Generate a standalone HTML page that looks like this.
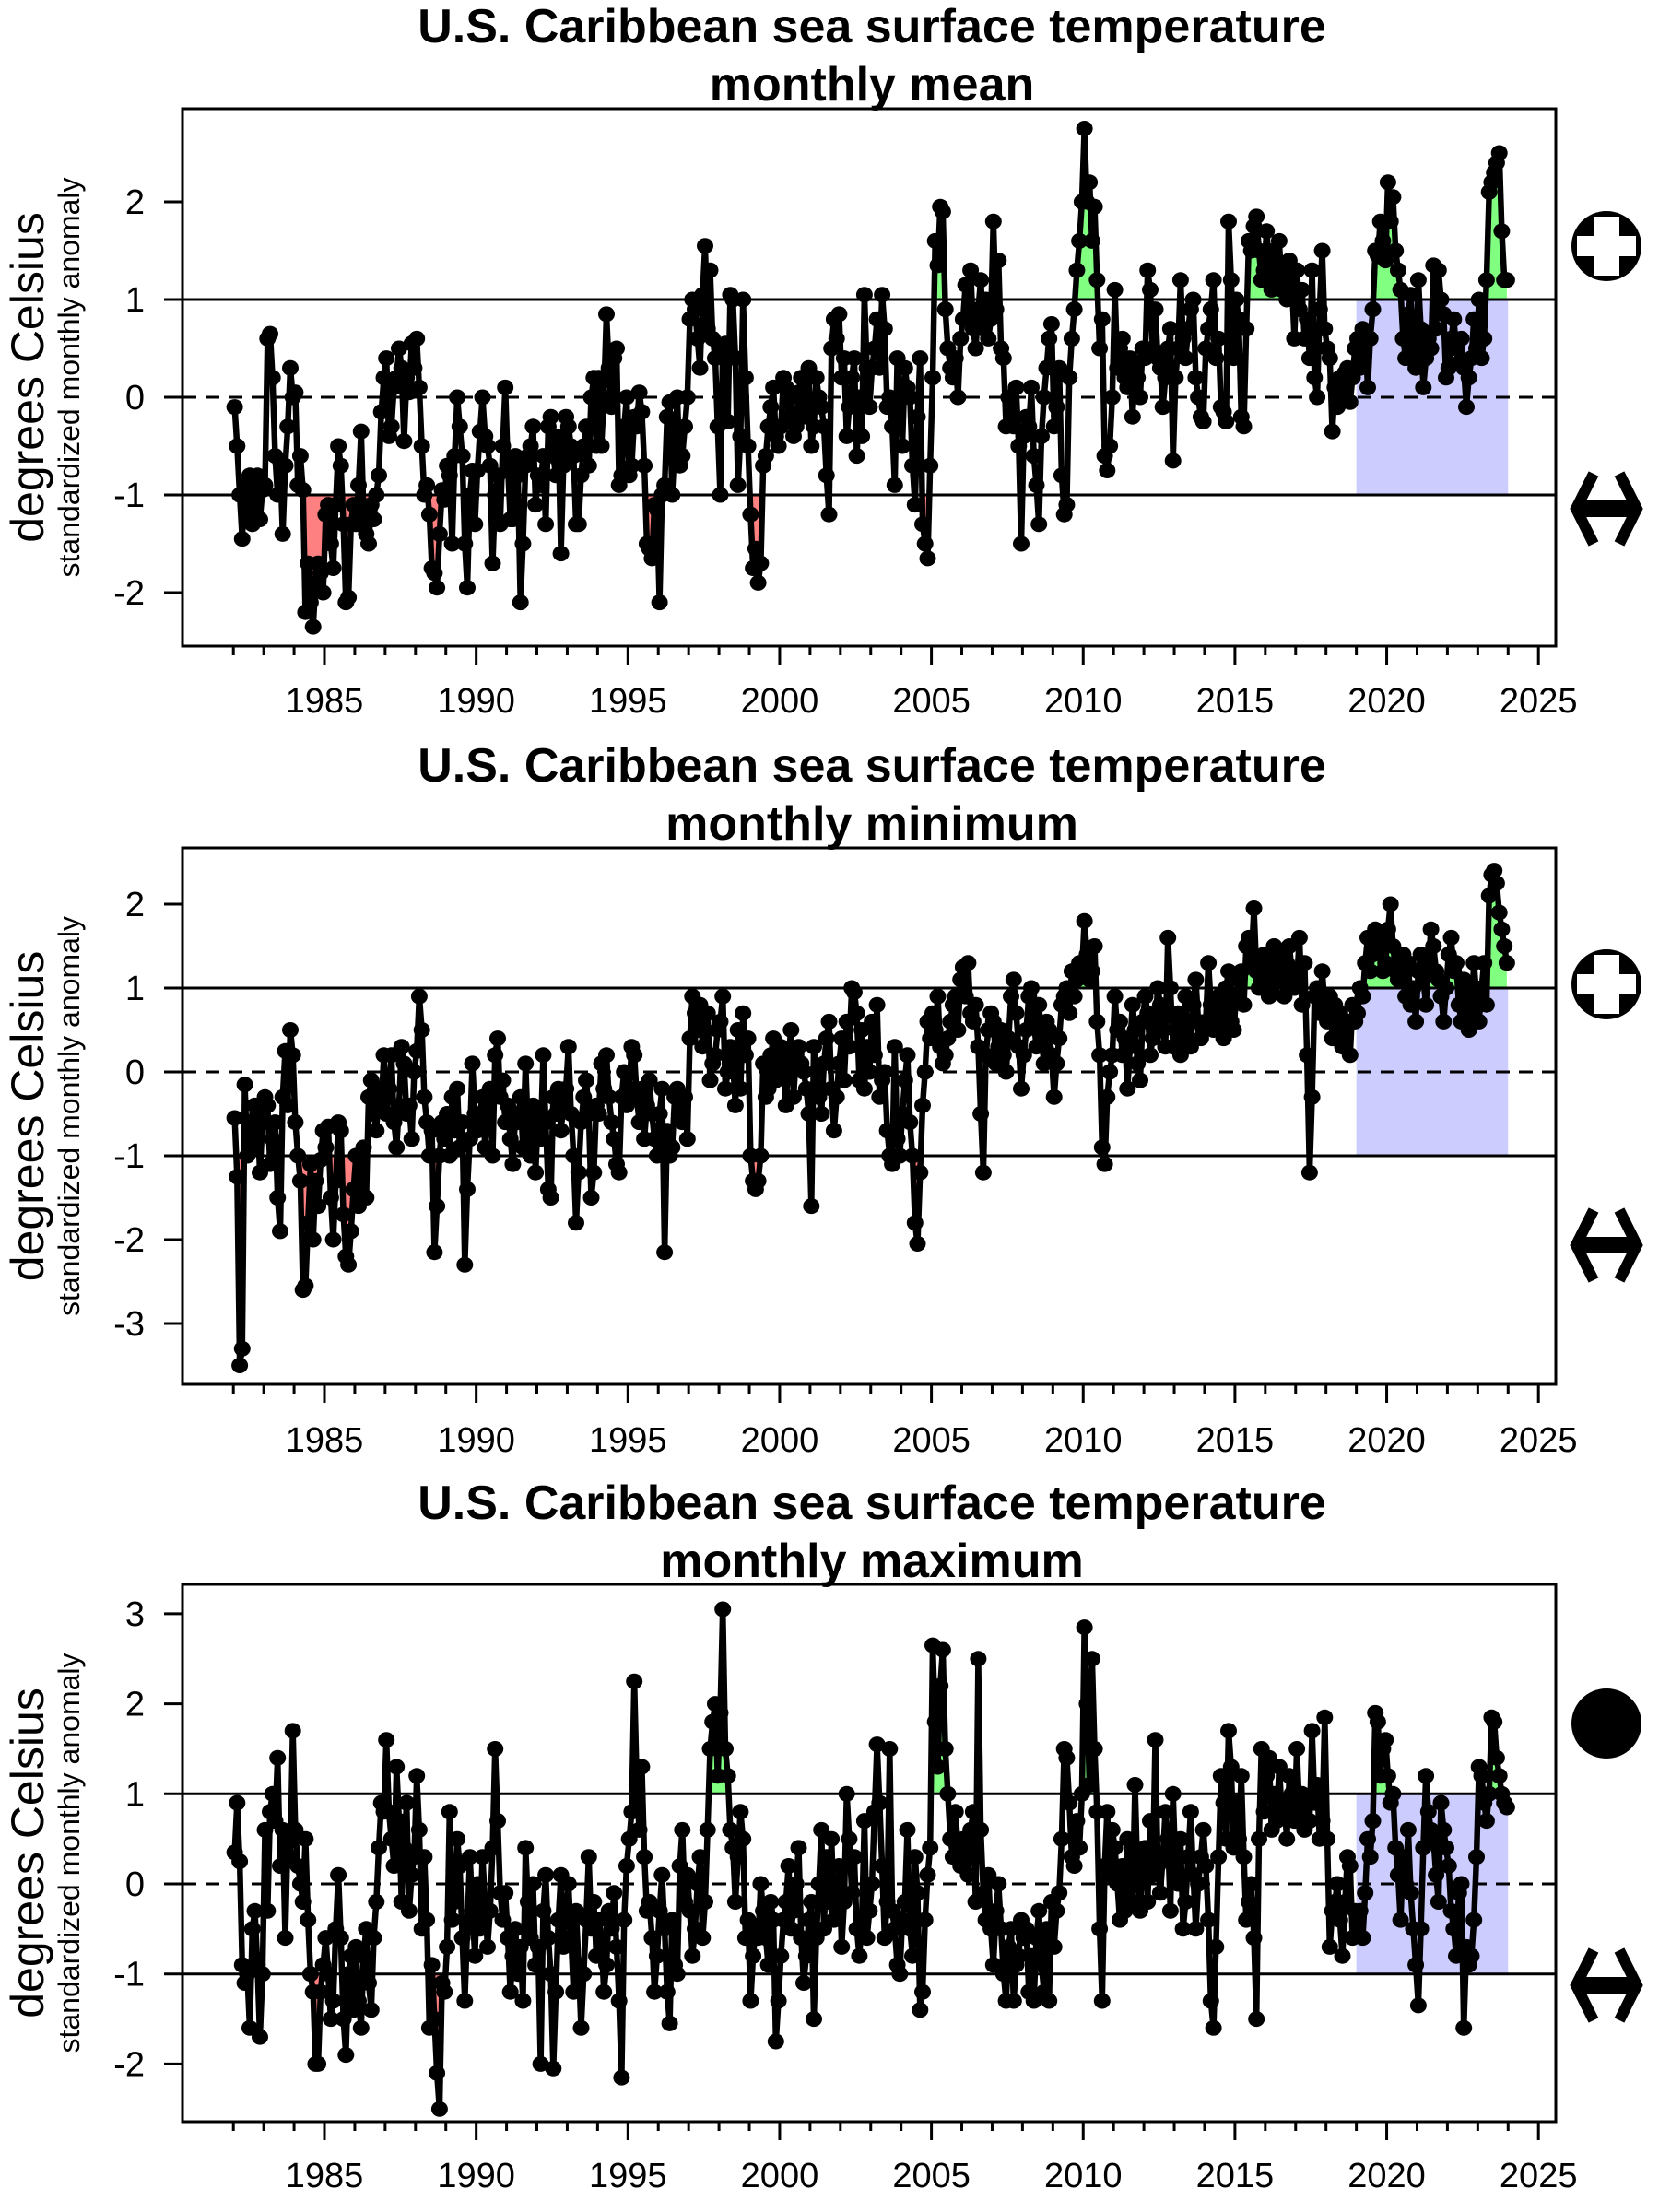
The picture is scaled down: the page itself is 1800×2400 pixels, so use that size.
<!DOCTYPE html>
<html><head><meta charset="utf-8"><style>
html,body{margin:0;padding:0;background:#fff;}
svg{display:block;font-family:"Liberation Sans",Arial,sans-serif;}
</style></head><body>
<svg id="chart" width="1800" height="2400" viewBox="0 0 1800 2400" xmlns="http://www.w3.org/2000/svg"></svg>
<script>
const startYear = 1982;
const xTickYears = [1985,1990,1995,2000,2005,2010,2015,2020,2025];
const meanValues = [
-0.1,-0.5,-1.0,-1.45,-0.9,-1.2,-0.8,-1.3,-1.0,-0.8,-1.25,-0.95,
-0.9,0.6,0.65,0.2,-0.6,-1.0,-0.65,-1.4,-0.7,-0.3,0.3,0.0,
0.05,-0.9,-0.6,-0.95,-2.2,-1.7,-2.1,-2.35,-1.9,-1.7,-1.8,-2.0,
-1.2,-1.1,-1.5,-1.75,-1.1,-0.5,-0.7,-1.3,-2.1,-2.05,-1.3,-1.1,
-1.3,-0.9,-0.35,-1.2,-1.4,-1.5,-1.1,-1.25,-1.0,-0.8,-0.15,0.2,
0.4,-0.4,-0.3,0.1,0.2,0.5,0.3,-0.45,0.2,0.05,0.55,0.3,
0.6,0.1,-0.5,-1.0,-0.9,-1.2,-1.75,-1.8,-1.95,-1.4,-0.95,-1.05,
-0.7,-0.8,-1.5,-0.6,0.0,-0.3,-0.6,-1.5,-1.95,-1.0,-0.75,-1.3,
-0.75,-0.35,0.0,-0.4,-0.5,-0.7,-1.7,-1.0,-0.8,-1.3,-0.5,0.1,
-0.7,-1.25,-1.25,-0.6,-0.8,-2.1,-1.5,-0.7,-0.6,-0.5,-0.3,-1.1,
-0.8,-0.9,-0.6,-1.3,-0.3,-0.2,-0.6,-0.8,-0.4,-1.6,-0.7,-0.2,
-0.3,-0.5,-0.6,-1.3,-1.3,-0.8,-0.5,-0.3,-0.7,0.0,0.2,-0.5,
0.2,-0.5,0.0,0.85,0.3,-0.1,0.4,0.5,-0.9,-0.8,-0.3,0.0,
-0.8,-0.7,-0.2,-0.3,0.05,-0.15,-0.7,-1.5,-1.55,-1.65,-1.1,-1.15,
-2.1,-1.0,-0.9,-0.2,-0.05,-1.0,-0.5,0.0,-0.7,-0.6,-0.3,0.0,
0.8,1.0,0.9,0.6,0.3,1.05,1.55,0.7,1.3,0.6,0.4,-0.3,
-1.0,0.5,0.55,-0.25,1.05,1.0,0.4,-0.9,-0.4,1.0,0.2,-0.5,
-1.2,-1.75,-1.55,-1.9,-1.7,-0.7,-0.6,-0.3,-0.1,0.1,-0.4,-0.5,
-0.3,0.2,0.1,-0.2,0.0,-0.4,-0.3,0.05,0.2,-0.2,-0.1,0.3,
-0.5,-0.3,0.2,0.0,-0.1,-0.3,-0.8,-1.2,0.5,0.8,0.6,0.85,
0.2,0.4,-0.4,-0.1,0.2,0.4,-0.6,0.0,-0.4,1.05,0.3,-0.1,
0.3,0.5,0.8,0.3,1.05,0.7,-0.1,0.0,-0.3,-0.9,0.4,0.0,
-0.5,0.3,0.1,0.0,-0.7,-1.1,-0.2,0.4,-1.3,-1.5,-1.65,-0.7,
0.2,1.6,1.35,1.95,1.9,0.9,0.5,0.3,0.2,0.4,0.0,0.6,
0.8,1.15,0.8,1.3,0.7,0.5,0.9,1.2,0.7,1.0,0.6,0.8,
1.8,0.9,1.4,0.5,0.4,-0.3,0.0,-0.1,-0.3,0.1,-0.5,-1.5,
-0.4,-0.2,-0.3,0.1,-0.6,-0.9,-1.3,-0.4,0.0,0.3,0.6,0.75,
-0.3,-0.1,0.3,-0.8,-1.2,-1.1,0.2,0.6,0.9,1.3,1.6,2.0,
2.75,2.0,2.2,1.6,1.95,1.2,0.5,0.8,-0.6,-0.75,-0.5,0.0,
1.1,0.3,0.5,0.6,0.2,0.1,0.4,-0.2,0.3,0.2,0.0,0.5,
0.4,1.3,1.1,0.5,0.9,0.4,0.3,-0.1,0.2,0.5,0.7,-0.65,
0.2,0.5,1.2,0.6,0.4,0.7,0.9,1.0,0.2,0.0,-0.2,-0.25,
0.5,0.7,0.9,1.2,0.4,0.6,-0.1,-0.15,-0.25,1.8,1.2,0.4,
1.0,0.8,-0.2,-0.3,0.7,1.6,1.5,1.75,1.85,1.5,1.2,1.3,
1.7,1.4,1.1,1.5,1.2,1.6,1.1,1.3,1.0,1.4,1.2,0.6,
1.3,0.9,1.1,0.6,0.8,0.4,1.3,0.2,0.0,0.9,1.5,0.7,
0.5,0.4,-0.35,0.1,-0.1,0.2,0.0,0.25,0.3,-0.05,0.2,0.5,
0.6,0.3,0.7,0.65,0.1,0.6,0.9,1.5,1.45,1.8,1.6,1.4,
2.2,1.8,2.05,1.5,1.3,1.1,0.6,0.4,0.85,1.05,0.5,0.3,
1.2,0.7,0.1,0.4,0.6,0.5,1.35,0.7,1.3,1.0,0.85,0.2,
0.3,0.6,0.8,0.5,0.35,0.6,0.3,-0.1,0.2,0.4,0.8,0.5,
1.0,0.4,0.6,1.2,2.1,2.2,2.3,2.4,2.5,1.7,1.2,1.2];
const minValues = [
-0.55,-1.25,-3.5,-3.3,-0.15,-1.0,-0.6,-0.9,-0.4,-0.5,-1.2,-0.6,
-0.3,-0.4,-1.1,-0.8,-0.6,-1.5,-1.9,-0.3,0.25,-0.4,0.5,0.2,
-0.6,-1.0,-1.3,-2.6,-2.55,-1.8,-1.1,-2.0,-1.3,-1.6,-1.05,-0.7,
-0.9,-0.65,-1.5,-2.0,-1.3,-0.6,-0.7,-1.7,-2.2,-2.3,-1.9,-1.4,
-1.0,-1.6,-1.2,-0.9,-1.5,-0.3,-0.1,-0.5,-0.7,-0.2,-0.4,0.2,
-0.5,-0.2,0.2,-0.6,-0.9,-0.4,0.3,0.1,-0.5,-0.4,-0.8,0.0,
0.25,0.9,0.5,-0.3,-0.6,-1.0,-0.7,-2.15,-1.6,-1.0,-0.6,-0.8,
-0.5,-1.0,-0.3,-0.7,-0.2,-0.9,-0.6,-2.3,-1.4,-0.8,0.1,-0.5,
-0.7,-0.5,-0.3,-0.9,-0.5,-0.2,-1.0,0.2,0.4,-0.3,-0.1,-0.6,
-0.4,-0.8,-1.1,-0.5,-0.6,-0.3,-0.9,0.1,-0.7,-1.0,-0.4,-1.2,
-0.5,-0.8,0.2,-0.6,-1.4,-1.5,-0.3,-0.5,-0.2,-0.7,-0.4,-0.2,
0.3,-0.5,-1.0,-1.8,-1.2,-0.6,-0.3,-0.1,-0.5,-1.5,-1.2,-0.4,
-0.5,0.1,-0.2,0.2,-0.3,-0.6,-0.8,-1.1,-1.2,-0.3,0.0,-0.4,
-0.2,0.3,0.2,-0.3,-0.6,-0.2,-0.8,-0.4,-0.1,-0.5,-0.8,-1.0,
-0.5,-0.2,-2.15,-0.7,-1.0,-0.9,-0.3,-0.2,-0.5,-0.6,-0.3,-0.8,
0.4,0.9,0.7,0.5,0.8,0.3,0.5,0.7,-0.1,0.1,0.2,0.5,
0.6,0.9,-0.2,0.0,0.3,0.1,-0.4,0.5,-0.2,0.7,0.2,0.4,
-1.0,-1.3,-1.4,-1.3,-1.0,0.1,-0.3,-0.2,0.2,0.4,-0.1,0.0,
0.3,0.0,-0.4,0.2,0.5,-0.3,0.2,0.3,0.1,0.0,-0.2,-0.5,
-1.6,0.3,0.0,-0.3,-0.5,0.1,0.4,0.6,-0.2,-0.7,-0.3,0.1,
0.4,-0.1,0.6,0.3,1.0,0.95,0.7,-0.1,0.5,-0.2,0.3,0.0,
0.6,0.2,0.8,-0.3,-0.1,0.0,-0.7,-1.0,-1.1,0.3,-0.8,-1.0,
-0.5,-0.1,0.2,-0.6,-1.0,-1.8,-2.05,-1.2,-0.4,0.0,0.6,0.4,
0.7,0.5,0.9,0.3,0.1,0.2,0.4,0.6,0.8,0.9,0.5,1.1,
1.25,0.9,1.3,0.7,0.6,0.8,0.3,-0.5,-1.2,0.2,0.5,0.7,
0.6,0.1,0.3,0.5,0.2,0.0,0.4,0.9,1.1,0.7,0.3,-0.2,
0.2,0.5,0.9,1.0,0.6,0.3,0.8,0.4,0.1,0.6,0.5,0.2,
-0.3,0.1,0.4,0.8,0.9,1.0,0.7,1.2,0.9,1.1,1.3,1.2,
1.8,1.4,1.1,1.2,1.5,0.6,0.2,-0.9,-1.1,-0.3,0.0,0.2,
0.9,0.5,0.6,0.2,0.4,-0.2,0.3,0.8,0.5,0.1,-0.1,0.6,
0.9,0.7,0.2,0.4,0.6,1.0,0.8,0.5,0.3,1.6,1.0,0.3,
0.5,0.7,0.2,0.6,0.9,0.4,0.3,0.8,1.1,0.6,0.4,0.5,
0.6,1.3,0.8,0.5,0.6,0.9,0.7,0.4,1.0,1.2,0.6,0.5,
0.9,1.1,1.2,0.8,1.5,1.6,1.3,1.95,1.2,1.0,1.1,1.4,
1.3,0.9,1.0,1.5,1.2,1.4,1.1,0.9,1.3,1.5,1.2,1.0,
1.1,1.6,0.8,1.3,0.2,-1.2,-0.3,0.9,1.0,0.7,1.2,0.8,
0.6,0.9,0.4,0.8,0.5,0.7,0.3,0.5,0.6,0.2,0.8,0.6,
0.7,1.0,0.9,1.3,1.6,1.2,1.4,1.7,1.5,1.6,1.2,1.3,
1.7,2.0,1.5,1.2,1.1,1.3,1.4,0.9,1.3,0.8,1.0,0.6,
1.2,1.4,1.1,0.8,1.3,1.7,1.5,1.2,1.1,0.9,0.6,1.0,
1.4,1.6,1.2,1.3,0.8,0.6,1.1,1.0,0.5,0.7,1.3,0.9,
0.6,1.0,1.3,0.8,2.1,2.35,2.4,2.25,1.9,1.7,1.5,1.3];
const maxValues = [
0.35,0.9,0.25,-0.9,-1.1,-1.0,-1.6,-0.5,-0.3,-0.9,-1.7,-1.0,
0.6,-0.3,0.8,1.0,0.7,1.4,0.2,0.6,-0.6,0.5,0.3,1.7,
0.6,0.2,0.0,-0.2,0.5,-0.4,-1.0,-1.2,-2.0,-2.0,-1.2,-0.9,
-0.6,-1.0,-1.5,-1.3,-0.5,0.1,-0.6,-1.5,-1.9,-1.0,-0.8,-1.4,
-0.7,-1.3,-1.6,-0.8,-0.5,-1.1,-1.4,-0.6,-0.2,0.4,0.9,0.8,
1.6,0.8,0.5,0.2,1.3,0.7,-0.2,0.4,0.9,-0.3,0.1,0.3,
1.2,0.6,-0.5,0.3,-0.4,-1.6,-0.9,-1.5,-2.1,-2.5,-1.1,-1.2,
-0.7,0.8,-0.4,-0.2,0.5,0.2,-0.6,-1.3,-0.5,0.3,-0.3,-0.8,
0.0,-0.5,0.3,-0.2,-0.7,-0.3,0.4,1.5,0.7,-0.1,-0.4,-0.1,
-0.6,-1.2,-0.8,-0.5,-1.0,-0.7,-1.3,0.4,-0.2,-0.6,0.0,-0.9,
-0.7,-2.0,-0.3,0.1,-0.6,-1.0,-2.05,-1.2,-0.4,0.1,-0.7,-0.3,
0.0,-0.6,-1.2,-0.3,-0.9,-1.6,-1.0,-0.4,0.3,-0.5,-0.2,-0.8,
-0.4,-0.6,-1.2,-0.9,-0.3,-0.5,-0.1,-0.7,-1.3,-2.15,-0.4,0.2,
0.5,0.8,2.25,1.1,0.6,1.3,0.3,-0.3,-0.2,-0.6,-1.2,-0.8,
-0.3,0.1,-0.5,-1.2,-1.55,-0.4,-0.9,-1.0,0.2,0.6,-0.2,0.1,
-0.3,-0.8,-0.5,0.0,0.3,-0.6,-0.2,0.6,1.5,1.8,2.0,1.2,
1.9,3.05,1.5,1.2,0.6,0.4,-0.2,0.3,0.8,0.5,-0.6,-0.4,
-1.3,-0.8,-0.5,-0.6,0.0,-0.3,-0.6,-0.9,-0.2,-0.4,-1.75,-1.3,
-0.8,-0.4,-0.2,0.2,-0.5,-0.3,0.0,0.4,-0.6,-1.1,-0.8,-0.4,
-0.2,-1.5,-0.6,0.0,0.6,-0.5,0.3,-0.2,0.5,-0.4,-0.3,0.2,
-0.7,-0.2,1.0,0.5,-0.1,0.3,-0.5,-0.8,-0.4,0.7,-0.6,-0.3,
0.0,0.8,1.55,0.9,0.2,-0.6,-0.2,1.5,-0.3,-0.5,-0.9,-1.0,
-0.4,-0.2,0.6,-0.5,-0.8,0.3,-0.1,-1.4,-1.2,-0.4,0.1,0.4,
2.65,1.8,1.3,2.2,2.6,1.5,1.0,0.5,0.3,0.8,0.4,0.2,
0.5,0.4,0.1,0.6,0.8,-0.2,2.5,0.6,-0.1,-0.4,0.1,-0.5,
-0.9,-0.3,0.0,-0.5,-1.0,-1.3,-0.7,-0.5,-1.3,-0.9,-0.8,-0.4,
-0.6,-0.5,-1.2,-0.8,-1.3,-0.6,-0.3,-0.9,-1.2,-0.5,-1.3,-0.2,
-0.7,-0.3,-0.1,0.5,1.5,1.4,0.9,0.3,0.2,0.7,0.4,1.0,
2.85,2.0,1.1,2.5,1.5,0.8,-0.5,-1.3,0.2,0.8,0.1,0.6,
0.4,0.0,-0.4,0.2,-0.3,0.5,0.0,-0.2,1.1,0.1,-0.3,0.3,
0.4,-0.2,0.7,0.1,1.6,0.2,-0.1,0.3,0.8,0.5,-0.3,1.0,
0.2,0.0,0.5,-0.5,-0.2,0.3,0.8,0.1,-0.5,0.0,0.3,0.6,
0.2,-0.4,-1.3,-1.6,-0.7,0.3,1.2,0.9,0.5,1.7,1.3,0.4,
0.9,0.5,1.2,0.3,-0.4,-0.2,0.0,-0.6,-1.5,0.5,1.5,0.8,
1.2,1.4,0.6,1.0,0.7,1.3,0.8,0.9,0.5,1.2,1.0,0.7,
1.5,0.8,1.0,0.6,0.9,0.7,1.7,0.9,1.1,0.5,0.7,1.85,
0.5,-0.7,-0.3,-0.2,0.0,-0.4,-0.8,-0.2,0.3,0.2,-0.6,-0.3,
-0.5,-0.3,-0.6,-0.1,0.5,0.3,0.7,1.9,1.8,1.2,1.5,1.6,
1.2,0.9,1.0,0.4,0.1,-0.4,0.3,0.0,0.6,-0.1,-0.5,-0.9,
-1.35,-0.5,0.4,1.2,0.8,0.6,0.5,0.1,-0.2,0.9,0.6,0.4,
0.2,-0.3,-0.5,-0.8,-0.1,0.0,-1.6,-0.7,-0.9,-0.8,-0.4,0.3,
1.3,1.2,0.9,0.7,1.0,1.85,1.8,1.4,1.2,1.0,0.9,0.85];
const meanTicks = [-2,-1,0,1,2];
const minTicks = [-3,-2,-1,0,1,2];
const maxTicks = [-2,-1,0,1,2,3];
const titles = ["monthly mean","monthly minimum","monthly maximum"];
const recentStart = 2019, recentEnd = 2024;

const NS = "http://www.w3.org/2000/svg";
const svg = document.getElementById("chart");
function mk(tag, attrs, parent){const e=document.createElementNS(NS,tag);for(const k in attrs)e.setAttribute(k,attrs[k]);(parent||svg).appendChild(e);return e;}

const L=198, R=1688;
const xs = yr => 352 + (yr-1985)*32.93;
const panels = [
 {vals:meanValues, ticks:meanTicks, top:118, bot:701, zero:431, unit:106, icon:"plus", iy1:267, iy2:552, t:46, tl:773, name:"mean"},
 {vals:minValues, ticks:minTicks, top:920, bot:1502, zero:1163, unit:91, icon:"plus", iy1:1068, iy2:1351, t:848, tl:1575, name:"minimum"},
 {vals:maxValues, ticks:maxTicks, top:1719, bot:2302, zero:2044, unit:97.7, icon:"dot", iy1:1870, iy2:2154, t:1648, tl:2373, name:"maximum"}
];

panels.forEach((p,pi)=>{
  const g = mk("g",{});
  
  
  const ys = v => p.zero - v*p.unit;
  const t1 = mk("text",{x:946,y:p.t,"text-anchor":"middle","font-size":52,"font-weight":"bold"},g);
  t1.textContent="U.S. Caribbean sea surface temperature";
  
  
  const t2 = mk("text",{x:946,y:p.t+63,"text-anchor":"middle","font-size":52,"font-weight":"bold"},g);
  t2.textContent=titles[pi];
  
  
  const rr = mk("rect",{x:xs(recentStart),y:ys(1),width:xs(recentEnd)-xs(recentStart),height:ys(-1)-ys(1),fill:"#ccccff"},g);
  
  
  const pts = p.vals.map((v,i)=>[xs(startYear + i/12 + 1/24), v]);
  function fillBeyond(th, above, color, nm){
    let seg=null;
    const segs=[];
    for(let i=0;i<pts.length;i++){
      const [x,v]=pts[i];
      const inside = above? v>th : v<th;
      if(i>0){
        const [x0,v0]=pts[i-1];
        const in0 = above? v0>th : v0<th;
        if(in0!==inside){
          const f=(th-v0)/(v-v0); const xc=x0+f*(x-x0);
          if(inside){seg=[[xc,th]];} else {seg.push([xc,th]);segs.push(seg);seg=null;}
        }
      } else if(inside){seg=[[x,th]];}
      if(inside) seg.push([x,v]);
    }
    if(seg){seg.push([seg[seg.length-1][0],th]);segs.push(seg);}
    segs.forEach(s=>{
      const poly = mk("polygon",{points:s.map(q=>q[0].toFixed(1)+","+ys(q[1]).toFixed(1)).join(" "),fill:color},g);
      
      
    });
  }
  fillBeyond(1,true,"#80ff80","above-threshold-fill");
  fillBeyond(-1,false,"#ff8080","below-threshold-fill");
  [1,-1].forEach(v=>{
    const l=mk("line",{x1:L,x2:R,y1:ys(v),y2:ys(v),stroke:"#000","stroke-width":3},g);
    
    
  });
  const zl=mk("line",{x1:L,x2:R,y1:ys(0),y2:ys(0),stroke:"#000","stroke-width":3,"stroke-dasharray":"15 10"},g);
  
  
  const line = mk("polyline",{points:pts.map(q=>q[0].toFixed(1)+","+ys(q[1]).toFixed(1)).join(" "),fill:"none",stroke:"#000","stroke-width":6.5,"stroke-linejoin":"round"},g);
  
  
  pts.forEach(q=>{
    const c=mk("ellipse",{cx:q[0].toFixed(1),cy:ys(q[1]).toFixed(1),rx:9,ry:8.5,fill:"#000"},g);
    
    
  });
  const box=mk("rect",{x:L,y:p.top,width:R-L,height:p.bot-p.top,fill:"none",stroke:"#000","stroke-width":3},g);
  
  
  p.ticks.forEach(v=>{
    const tk=mk("line",{x1:178,x2:L,y1:ys(v),y2:ys(v),stroke:"#000","stroke-width":3},g);
    
    
    const tx=mk("text",{x:157,y:ys(v)+13,"text-anchor":"end","font-size":38},g);
    tx.textContent=String(v);
    
    
  });
  for(let yr=1982; yr<=2025; yr++){
    const major = xTickYears.indexOf(yr)>=0;
    const tk=mk("line",{x1:xs(yr),x2:xs(yr),y1:p.bot,y2:p.bot+(major?20:10),stroke:"#000","stroke-width":3},g);
    
    
  }
  xTickYears.forEach(yr=>{
    const tx=mk("text",{x:xs(yr),y:p.tl,"text-anchor":"middle","font-size":38},g);
    tx.textContent=String(yr);
    
    
  });
  const cy=(p.top+p.bot)/2;
  const yt=mk("text",{x:0,y:0,"text-anchor":"middle","font-size":50,transform:`translate(47,${cy}) rotate(-90)`},g);
  yt.textContent="degrees Celsius";
  
  
  const ys2=mk("text",{x:0,y:0,"text-anchor":"middle","font-size":32,transform:`translate(86,${cy}) rotate(-90)`},g);
  ys2.textContent="standardized monthly anomaly";
  
  
  const ic=mk("g",{},g);
  
  
  mk("circle",{cx:1743,cy:p.iy1,r:38,fill:"#000"},ic);
  if(p.icon==="plus"){
    mk("rect",{x:1743-32,y:p.iy1-11,width:64,height:22,fill:"#fff"},ic);
    mk("rect",{x:1743-14,y:p.iy1-32,width:28,height:64,fill:"#fff"},ic);
  }
  const ar=mk("g",{},g);
  
  
  const cx=1743, ay=p.iy2;
  mk("polyline",{points:`${cx-14},${ay-38} ${cx-33},${ay} ${cx-14},${ay+38}`,fill:"none",stroke:"#000","stroke-width":12},ar);
  mk("polyline",{points:`${cx+14},${ay-38} ${cx+33},${ay} ${cx+14},${ay+38}`,fill:"none",stroke:"#000","stroke-width":12},ar);
  mk("polygon",{points:`${cx-39},${ay} ${cx-28},${ay-9} ${cx+28},${ay-9} ${cx+39},${ay} ${cx+28},${ay+9} ${cx-28},${ay+9}`,fill:"#000"},ar);
});
</script>
</body></html>
